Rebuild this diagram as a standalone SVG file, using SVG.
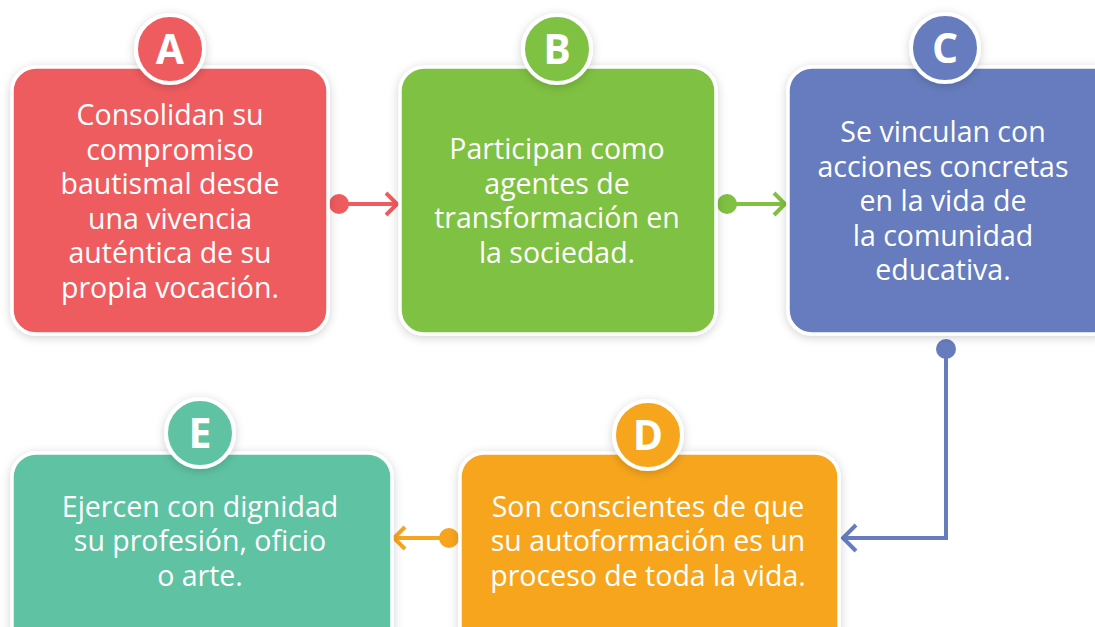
<svg xmlns="http://www.w3.org/2000/svg" width="1095" height="627" viewBox="0 0 1095 627">
<defs>
<filter id="sh" x="-20%" y="-20%" width="140%" height="140%">
<feDropShadow dx="0" dy="2" stdDeviation="5" flood-color="#000" flood-opacity="0.18"/>
</filter>
</defs>
<style>
.box{stroke:#fff;stroke-width:3.5;filter:url(#sh)}
.badge{stroke:#fff;stroke-width:4;filter:url(#sh)}
.t{font-family:"Open Sans","Noto Sans",sans-serif;font-size:28.5px;fill:#fff;text-anchor:middle}
.l{font-family:"Open Sans","Noto Sans",sans-serif;font-size:41px;font-weight:bold;fill:#fff;text-anchor:middle}
.con{fill:none;stroke-width:4}
.red{fill:#EF5B5E}.grn{fill:#7FC142}.blu{fill:#667CBE}.org{fill:#F7A51E}.tea{fill:#5FC2A3}
</style>
<rect width="1095" height="627" fill="#fff"/>
<g id="connectors">
<line class="con" x1="339" y1="204" x2="396" y2="204" stroke="#EF5B5E"/>
<path d="M386,193 L397,204 L386,215" fill="none" stroke="#EF5B5E" stroke-width="4"/>
<circle cx="339" cy="204" r="10" fill="#EF5B5E"/>
<line class="con" x1="727" y1="204" x2="784" y2="204" stroke="#7FC142"/>
<path d="M774,193 L785,204 L774,215" fill="none" stroke="#7FC142" stroke-width="4"/>
<circle cx="727" cy="204" r="10" fill="#7FC142"/>
<polyline class="con" points="946,349 946,538 842,538" stroke="#667CBE"/>
<path d="M856,525 L843,538 L856,551" fill="none" stroke="#667CBE" stroke-width="4"/>
<circle cx="946" cy="349" r="10" fill="#667CBE"/>
<line class="con" x1="449" y1="538" x2="394" y2="538" stroke="#F7A51E"/>
<path d="M405,527 L394,538 L405,549" fill="none" stroke="#F7A51E" stroke-width="4"/>
<circle cx="449" cy="538" r="10" fill="#F7A51E"/>
</g>
<g id="nodeA">
<rect class="box red" x="12" y="67" width="316" height="267" rx="24"/>
<circle class="badge red" cx="170" cy="49" r="34"/>
<text class="l" x="170" y="64">A</text>
<text class="t" y="125"><tspan x="170">Consolidan su</tspan><tspan x="170" dy="34.5">compromiso</tspan><tspan x="170" dy="34.5">bautismal desde</tspan><tspan x="170" dy="34.5">una vivencia</tspan><tspan x="170" dy="34.5">auténtica de su</tspan><tspan x="170" dy="34.5">propia vocación.</tspan></text>
</g>
<g id="nodeB">
<rect class="box grn" x="400" y="67" width="316" height="267" rx="24"/>
<circle class="badge grn" cx="557" cy="49" r="34"/>
<text class="l" x="557" y="64">B</text>
<text class="t" y="159"><tspan x="557">Participan como</tspan><tspan x="557" dy="34.5">agentes de</tspan><tspan x="557" dy="34.5">transformación en</tspan><tspan x="557" dy="34.5">la sociedad.</tspan></text>
</g>
<g id="nodeC">
<rect class="box blu" x="788" y="67" width="330" height="267" rx="24"/>
<circle class="badge blu" cx="945" cy="48" r="34"/>
<text class="l" x="945" y="63">C</text>
<text class="t" y="142"><tspan x="943">Se vinculan con</tspan><tspan x="943" dy="34.5">acciones concretas</tspan><tspan x="943" dy="34.5">en la vida de</tspan><tspan x="943" dy="34.5">la comunidad</tspan><tspan x="943" dy="34.5">educativa.</tspan></text>
</g>
<g id="nodeD">
<rect class="box org" x="460" y="453" width="379" height="200" rx="24"/>
<circle class="badge org" cx="648" cy="435" r="34"/>
<text class="l" x="648" y="450">D</text>
<text class="t" y="517"><tspan x="648">Son conscientes de que</tspan><tspan x="648" dy="34.3">su autoformación es un</tspan><tspan x="648" dy="34.3">proceso de toda la vida.</tspan></text>
</g>
<g id="nodeE">
<rect class="box tea" x="12" y="453" width="380" height="200" rx="24"/>
<circle class="badge tea" cx="200" cy="433" r="34"/>
<text class="l" x="200" y="448">E</text>
<text class="t" y="517"><tspan x="200">Ejercen con dignidad</tspan><tspan x="200" dy="34.3">su profesión, oficio</tspan><tspan x="200" dy="34.3">o arte.</tspan></text>
</g>
</svg>
